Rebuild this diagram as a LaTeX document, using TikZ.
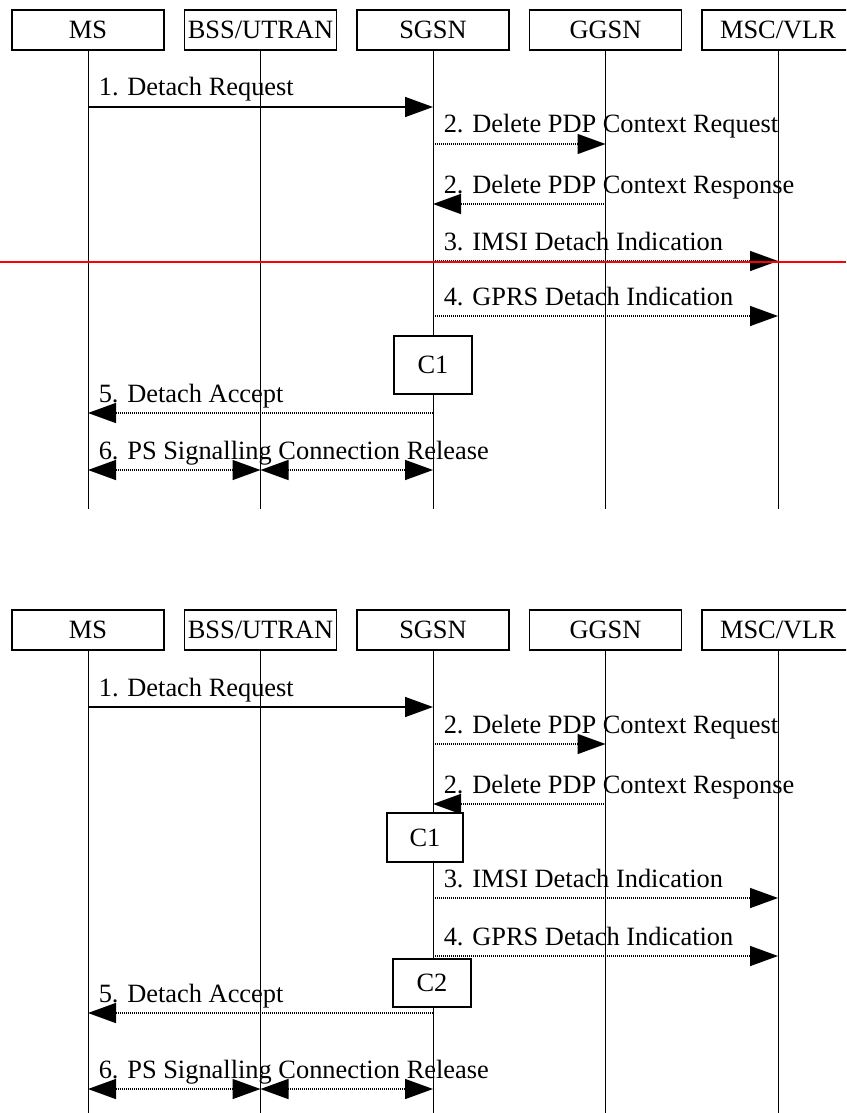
\documentclass[tikz,border=0pt]{standalone}
\usepackage{fontspec}
\setmainfont{Liberation Serif}
\usetikzlibrary{arrows.meta,positioning}

\begin{document}
\begin{tikzpicture}[
    x=0.5pt, y=-0.5pt,
    font=\fontsize{13.2}{15}\selectfont,
    >={Triangle[length=14pt,width=10pt]},
    entity/.style={draw, line width=0.75pt, minimum width=76pt,
        minimum height=20pt, inner sep=0pt, outer sep=0pt},
    cond/.style={draw, fill=white, line width=0.75pt, inner sep=0pt},
    life/.style={line width=0.5pt},
    sig/.style={->, line width=0.8pt},
    dsig/.style={->, line width=0.75pt, dash pattern=on 0.5pt off 0.5pt},
    bsig/.style={dsig, <->},
    lbl/.style={anchor=base west, xshift=5pt, yshift=5.5pt, inner sep=0pt},
    node distance=10.25pt
]
\clip (0,0) rectangle (846,1113);

% first procedure
\node[entity] (ms) at (88,30) {MS};
\node[entity, right=of ms] (bss) {BSS/UTRAN};
\node[entity, right=of bss] (sgsn) {SGSN};
\node[entity, right=of sgsn] (ggsn) {GGSN};
\node[entity, right=of ggsn] (msc) {MSC/VLR};
\draw[life] (ms.south) -- (ms |- 0,509);
\draw[life] (bss.south) -- (bss |- 0,509);
\draw[life] (sgsn.south) -- (sgsn |- 0,509);
\draw[life] (ggsn.south) -- (ggsn |- 0,509);
\draw[life] (msc.south) -- (msc |- 0,509);

\draw[sig] (ms |- 0,107) -- node[lbl, at start] {1. Detach Request} (sgsn |- 0,107);
\draw[dsig] (sgsn |- 0,144) -- node[lbl, at start] {2. Delete PDP Context Request} (ggsn |- 0,144);
\draw[dsig] (ggsn |- 0,204) -- node[lbl, at end] {2. Delete PDP Context Response} (sgsn |- 0,204);
\draw[dsig] (sgsn |- 0,261) -- node[lbl, at start] {3. IMSI Detach Indication} (msc |- 0,261);
\draw[dsig] (sgsn |- 0,316) -- node[lbl, at start] {4. GPRS Detach Indication} (msc |- 0,316);
\node[cond, minimum width=39pt, minimum height=29pt] (c1) at (433,365) {C1};
\draw[dsig] (sgsn |- 0,413) -- node[lbl, at end] {5. Detach Accept} (ms |- 0,413);
\draw[bsig] (ms |- 0,470) -- node[lbl, at start] {6. PS Signalling Connection Release} (bss |- 0,470);
\draw[bsig] (bss |- 0,470) -- (sgsn |- 0,470);
\coordinate (redL) at (0,262);
\coordinate (redR) at (846,262);
\draw[red, line width=0.75pt] (redL) -- (redR);

% second procedure
\node[entity] (ms2) at (88,630) {MS};
\node[entity, right=of ms2] (bss2) {BSS/UTRAN};
\node[entity, right=of bss2] (sgsn2) {SGSN};
\node[entity, right=of sgsn2] (ggsn2) {GGSN};
\node[entity, right=of ggsn2] (msc2) {MSC/VLR};
\draw[life] (ms2.south) -- (ms2 |- 0,1113);
\draw[life] (bss2.south) -- (bss2 |- 0,1113);
\draw[life] (sgsn2.south) -- (sgsn2 |- 0,1113);
\draw[life] (ggsn2.south) -- (ggsn2 |- 0,1113);
\draw[life] (msc2.south) -- (msc2 |- 0,1113);

\draw[sig] (ms2 |- 0,707) -- node[lbl, at start] {1. Detach Request} (sgsn2 |- 0,707);
\draw[dsig] (sgsn2 |- 0,744) -- node[lbl, at start] {2. Delete PDP Context Request} (ggsn2 |- 0,744);
\draw[dsig] (ggsn2 |- 0,804) -- node[lbl, at end] {2. Delete PDP Context Response} (sgsn2 |- 0,804);
\node[cond, minimum width=38pt, minimum height=24.5pt] (c1b) at (425,837.5) {C1};
\draw[dsig] (sgsn2 |- 0,898) -- node[lbl, at start] {3. IMSI Detach Indication} (msc2 |- 0,898);
\draw[dsig] (sgsn2 |- 0,956) -- node[lbl, at start] {4. GPRS Detach Indication} (msc2 |- 0,956);
\node[cond, minimum width=39pt, minimum height=24pt] (c2) at (432,983) {C2};
\draw[dsig] (sgsn2 |- 0,1013) -- node[lbl, at end] {5. Detach Accept} (ms2 |- 0,1013);
\draw[bsig] (ms2 |- 0,1089) -- node[lbl, at start] {6. PS Signalling Connection Release} (bss2 |- 0,1089);
\draw[bsig] (bss2 |- 0,1089) -- (sgsn2 |- 0,1089);
\end{tikzpicture}
\end{document}
